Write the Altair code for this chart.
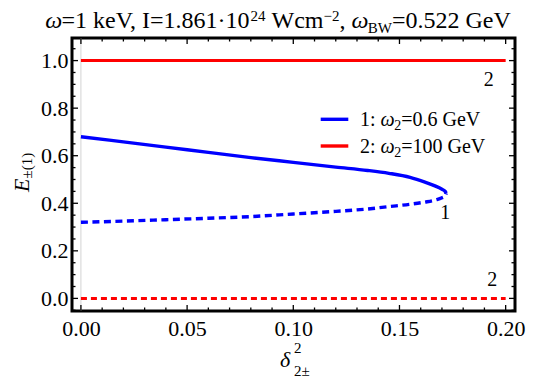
import altair as alt
import pandas as pd

# ---------------- data ----------------
delta_upper = [0.0, 0.02, 0.04, 0.06, 0.08, 0.10, 0.12, 0.135, 0.145, 0.155, 0.162, 0.167, 0.170, 0.1715, 0.172]
E_upper     = [0.680, 0.658, 0.636, 0.614, 0.592, 0.572, 0.552, 0.538, 0.526, 0.509, 0.489, 0.472, 0.459, 0.450, 0.442]
delta_lower = [0.0, 0.02, 0.04, 0.06, 0.08, 0.10, 0.12, 0.135, 0.145, 0.155, 0.162, 0.167, 0.170, 0.1715, 0.172]
E_lower     = [0.320, 0.325, 0.331, 0.337, 0.344, 0.355, 0.366, 0.376, 0.386, 0.396, 0.405, 0.414, 0.423, 0.431, 0.442]
red_delta = [0.0, 0.2]
red_upper = [1.0, 1.0]
red_lower = [0.0, 0.0]

x_major = [0.0, 0.05, 0.10, 0.15, 0.20]
y_major = [0.0, 0.2, 0.4, 0.6, 0.8, 1.0]
x_minor = [i / 100 for i in range(0, 21) if i % 5]
y_minor = [-0.05] + [i / 20 for i in range(0, 22) if i % 4]

curve_labels = pd.DataFrame({"d": [0.1716, 0.192, 0.1937], "E": [0.359, 0.919, 0.077], "t": ["1", "2", "2"]})

# ---------------- layout ----------------
W, H = 443, 273
OX, OY = 72, 38          # page position of plot origin (8px margin + padding)
SERIF = "Liberation Serif"
xs = alt.Scale(domain=[-0.0042, 0.2044], nice=False, zero=False)
ys = alt.Scale(domain=[-0.053, 1.095], nice=False, zero=False)
xaxis = alt.Axis(values=x_major, format=".2f", ticks=False, tickSize=0, domain=False, grid=False,
                 labelFont=SERIF, labelFontSize=22, labelColor="black", labelPadding=7,
                 labelFlush=False, title=None)
yaxis = alt.Axis(values=y_major, format=".1f", ticks=False, tickSize=0, domain=False, grid=False,
                 labelFont=SERIF, labelFontSize=22, labelColor="black", labelPadding=4,
                 labelFlush=False, title=None)


def X(f):
    return alt.X(f, scale=xs, axis=xaxis)


def Y(f):
    return alt.Y(f, scale=ys, axis=yaxis)


layers = []

# faint vertical axis line at delta = 0
layers.append(alt.Chart(pd.DataFrame({"v": [0.0]})).mark_rule(color="#d4d4d4", strokeWidth=1)
              .encode(x=X("v:Q"), y=alt.value(0), y2=alt.value(H)))


def line(d, e, color, dash=None, width=3.2):
    df = pd.DataFrame({"d": d, "E": e, "o": list(range(len(d)))})
    kw = dict(color=color, strokeWidth=width, clip=True, interpolate="monotone")
    if dash:
        kw["strokeDash"] = dash
    return alt.Chart(df).mark_line(**kw).encode(x=X("d:Q"), y=Y("E:Q"), order="o:Q")


layers.append(line(red_delta, red_upper, "#ff0000", width=3))
layers.append(line(red_delta, red_lower, "#ff0000", dash=[6, 4], width=3))
layers.append(line(delta_upper, E_upper, "#0000ff", width=3.4))
layers.append(line(delta_lower, E_lower, "#0000ff", dash=[7, 4.5], width=3.4))


# inward frame ticks on all four sides
def xticks(vals, length):
    df = pd.DataFrame({"v": vals})
    b = alt.Chart(df).mark_rule(color="black", strokeWidth=1.3)
    return [b.encode(x=X("v:Q"), y=alt.value(H), y2=alt.value(H - length)),
            b.encode(x=X("v:Q"), y=alt.value(0), y2=alt.value(length))]


def yticks(vals, length):
    df = pd.DataFrame({"v": vals})
    b = alt.Chart(df).mark_rule(color="black", strokeWidth=1.3)
    return [b.encode(y=Y("v:Q"), x=alt.value(0), x2=alt.value(length)),
            b.encode(y=Y("v:Q"), x=alt.value(W), x2=alt.value(W - length))]


layers += xticks(x_major, 6) + xticks(x_minor, 3.5) + yticks(y_major, 6) + yticks(y_minor, 3.5)

# curve number labels
layers.append(alt.Chart(curve_labels).mark_text(font=SERIF, fontSize=20, color="black", baseline="middle")
              .encode(x=X("d:Q"), y=Y("E:Q"), text="t:N"))

# legend
leg = pd.DataFrame({"x1": [248.7, 248.7], "x2": [276.3, 276.3], "y": [81.3, 108.0], "c": ["#0000ff", "#ff0000"]})
for i in range(2):
    layers.append(alt.Chart(alt.Data(values=[{}])).mark_rule(color=leg.c[i], strokeWidth=3.4)
                  .encode(x=alt.value(leg.x1[i]), x2=alt.value(leg.x2[i]), y=alt.value(leg.y[i])))

# ---------------- rich text pieces ----------------
WID = {' ': 250, '=': 564, '.': 250, ',': 250, ':': 278, 'k': 500, 'e': 444, 'V': 722, 'I': 333,
       '·': 250, 'W': 944, 'c': 444, 'm': 778, '−': 564, 'B': 667, 'G': 722, '±': 564, '(': 333,
       ')': 333, 'E': 611, 'ω': 680, 'δ': 500}


def tw(s, fs):
    return sum(WID.get(ch, 500) for ch in s) * fs / 1000


def piece(s, px, py, fs, italic=False, angle=None):
    kw = dict(text=s, font=SERIF, fontSize=fs, align="left", baseline="alphabetic", color="black")
    if italic:
        kw["fontStyle"] = "italic"
    if angle is not None:
        kw["angle"] = angle
    return alt.Chart(alt.Data(values=[{}])).mark_text(**kw).encode(
        x=alt.value(px - OX), y=alt.value(py - OY))


def run(pieces, x0, base):
    out = []
    x = x0
    for s, fs, it, dy in pieces:
        lead = len(s) - len(s.lstrip(" "))
        x += tw(" " * lead, fs)
        core = s.strip(" ")
        if core:
            out.append(piece(core, x, base + dy, fs, it))
        x += tw(s.lstrip(" "), fs)
    return out


title = [("ω", 24, True, 0), ("=1 keV, I=1.861·10", 24, False, 0), ("24", 15, False, -7),
         (" Wcm", 24, False, 0), ("−2", 15, False, -7), (", ", 24, False, 0), ("ω", 24, True, 0),
         ("BW", 15, False, 5), ("=0.522 GeV", 24, False, 0)]
tot = sum(tw(s, fs) for s, fs, _, _ in title)
layers += run(title, 278 - tot / 2, 28)

leg1 = [("1: ", 20, False, 0), ("ω", 20, True, 0), ("2", 14, False, 4), ("=0.6 GeV", 20, False, 0)]
leg2 = [("2: ", 20, False, 0), ("ω", 20, True, 0), ("2", 14, False, 4), ("=100 GeV", 20, False, 0)]
layers += run(leg1, 360, 126)
layers += run(leg2, 360, 153)

# x axis title: delta^2_{2±}
layers.append(piece("δ", 280, 367, 22, True))
layers.append(piece("2", 294, 353, 15))
layers.append(piece("2±", 294, 376, 15))

# y axis title: E_{±(1)} rotated
layers.append(piece("E", 28.5, 192, 22, True, 270))
layers.append(piece("±(1)", 32, 192 - tw("E", 22), 15, False, 270))

chart = alt.layer(*layers).properties(
    width=W, height=H,
    autosize=alt.AutoSizeParams(type="none"),
    padding={"left": 64, "top": 30, "right": 27, "bottom": 70},
    background="white",
).configure_view(stroke="black", strokeWidth=3)

chart.save("out.html", embed_options={"renderer": "svg", "actions": False})
